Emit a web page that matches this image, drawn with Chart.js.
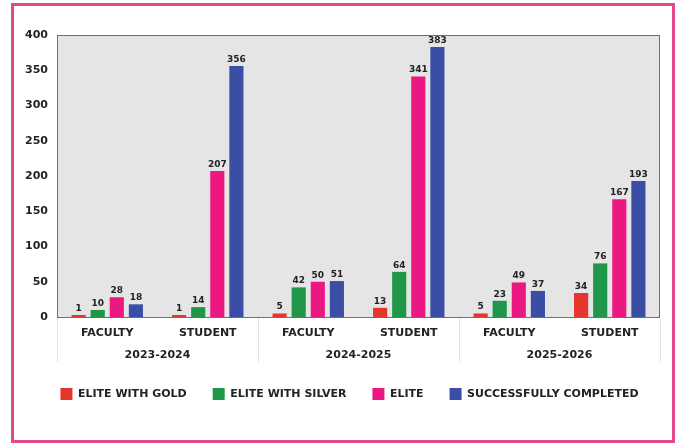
<!DOCTYPE html>
<html>
<head>
<meta charset="utf-8">
<script src="https://cdn.jsdelivr.net/npm/chart.js@4"></script>
<style>
  html, body { margin: 0; padding: 0; background: #ffffff; }
  #wrap { position: relative; width: 677px; height: 443px; }
  #frame {
    position: absolute; left: 11px; top: 3px; width: 658px; height: 434px;
    border: 3px solid #e2488a; pointer-events: none; box-sizing: content-box;
  }
  canvas { position: absolute; left: 0; top: 0; }
</style>
</head>
<body>
<div id="wrap">
  <canvas id="chart" width="677" height="443"></canvas>
  <div id="frame"></div>
</div>
<script>
// Participation counts by academic year and member type
const years = ['2023-2024', '2024-2025', '2025-2026'];
const categories = ['FACULTY', 'STUDENT', 'FACULTY', 'STUDENT', 'FACULTY', 'STUDENT'];
const seriesNames = ['ELITE WITH GOLD', 'ELITE WITH SILVER', 'ELITE', 'SUCCESSFULLY COMPLETED'];
const eliteWithGold = [1, 1, 5, 13, 5, 34];
const eliteWithSilver = [10, 14, 42, 64, 23, 76];
const elite = [28, 207, 50, 341, 49, 167];
const successfullyCompleted = [18, 356, 51, 383, 37, 193];
const yTicks = [0, 50, 100, 150, 200, 250, 300, 350, 400];

const colors = ['#e5352d', '#1f9648', '#ea1880', '#3a4ea6'];
const FONT = "'DejaVu Sans', sans-serif";
const TEXT = '#222222';

// Grey plotting panel with a thin frame
const panelPlugin = {
  id: 'panel',
  beforeDraw(chart) {
    const a = chart.chartArea, ctx = chart.ctx;
    ctx.save();
    ctx.fillStyle = '#e5e5e5';
    ctx.fillRect(a.left, a.top, a.right - a.left, a.bottom - a.top);
    ctx.restore();
  },
  afterDatasetsDraw(chart) {
    const a = chart.chartArea, ctx = chart.ctx;
    ctx.save();
    ctx.strokeStyle = '#6f6f6f';
    ctx.lineWidth = 1;
    ctx.strokeRect(a.left + 0.5, a.top + 0.5, a.right - a.left - 1, a.bottom - a.top);
    ctx.restore();
  }
};

// Vertical dividers between the year groups under the axis
const dividerPlugin = {
  id: 'dividers',
  afterDraw(chart) {
    const x = chart.scales.x, x2 = chart.scales.x2, ctx = chart.ctx;
    const per = categories.length / years.length;
    const xs = [];
    for (let g = 0; g <= years.length; g++) {
      const k = g * per;
      if (k === 0) xs.push(x.left);
      else if (k === categories.length) xs.push(x.right);
      else xs.push((x.getPixelForValue(k - 1) + x.getPixelForValue(k)) / 2);
    }
    ctx.save();
    ctx.strokeStyle = '#e4e4e4';
    ctx.lineWidth = 1;
    xs.forEach(px => {
      ctx.beginPath();
      ctx.moveTo(Math.round(px) + 0.5, x.top + 1);
      ctx.lineTo(Math.round(px) + 0.5, x2.bottom);
      ctx.stroke();
    });
    ctx.restore();
  }
};

// Value printed above every bar
const valueLabelPlugin = {
  id: 'valueLabels',
  afterDatasetsDraw(chart) {
    const ctx = chart.ctx;
    ctx.save();
    ctx.font = "bold 9px " + FONT;
    ctx.fillStyle = TEXT;
    ctx.textAlign = 'center';
    ctx.textBaseline = 'bottom';
    chart.data.datasets.forEach((ds, i) => {
      const meta = chart.getDatasetMeta(i);
      meta.data.forEach((bar, j) => {
        ctx.fillText(String(ds.data[j]), bar.x, bar.y - 2);
      });
    });
    ctx.restore();
  }
};

const seriesData = [eliteWithGold, eliteWithSilver, elite, successfullyCompleted];

new Chart(document.getElementById('chart'), {
  type: 'bar',
  data: {
    labels: categories,
    datasets: seriesNames.map((name, i) => ({
      label: name,
      data: seriesData[i],
      backgroundColor: colors[i],
      borderWidth: 0,
      minBarLength: 2,
      categoryPercentage: 0.76,
      barPercentage: 0.74
    }))
  },
  options: {
    responsive: false,
    animation: false,
    devicePixelRatio: 1,
    layout: { padding: { top: 35, left: 22, right: 0, bottom: 33 } },
    plugins: {
      tooltip: { enabled: false },
      legend: {
        position: 'bottom',
        labels: {
          boxWidth: 12,
          boxHeight: 12,
          padding: 26,
          color: TEXT,
          font: { family: FONT, size: 11, weight: 'bold' }
        }
      }
    },
    scales: {
      x: {
        type: 'category',
        position: 'bottom',
        weight: 0,
        grid: { display: false, drawTicks: false },
        border: { display: false },
        ticks: {
          padding: 10,
          color: TEXT,
          maxRotation: 0,
          autoSkip: false,
          font: { family: FONT, size: 11, weight: 'bold' }
        },
        afterFit(s) { s.height = 25; }
      },
      x2: {
        type: 'category',
        position: 'bottom',
        weight: 1,
        labels: years,
        offset: true,
        grid: { display: false, drawTicks: false },
        border: { display: false },
        ticks: {
          padding: 7,
          color: TEXT,
          maxRotation: 0,
          autoSkip: false,
          font: { family: FONT, size: 11, weight: 'bold' }
        },
        afterFit(s) { s.height = 20; }
      },
      y: {
        position: 'left',
        min: 0,
        max: 400,
        afterBuildTicks(s) { s.ticks = yTicks.map(v => ({ value: v })); },
        grid: { display: false, drawTicks: false },
        border: { display: false },
        ticks: {
          padding: 9,
          color: TEXT,
          font: { family: FONT, size: 11, weight: 'bold' }
        },
        afterFit(s) { s.width = 35; }
      },
      yr: {
        position: 'right',
        display: true,
        grid: { display: false, drawTicks: false },
        border: { display: false },
        ticks: { display: false },
        afterFit(s) { s.width = 17; }
      }
    }
  },
  plugins: [panelPlugin, dividerPlugin, valueLabelPlugin]
});
</script>
</body>
</html>
